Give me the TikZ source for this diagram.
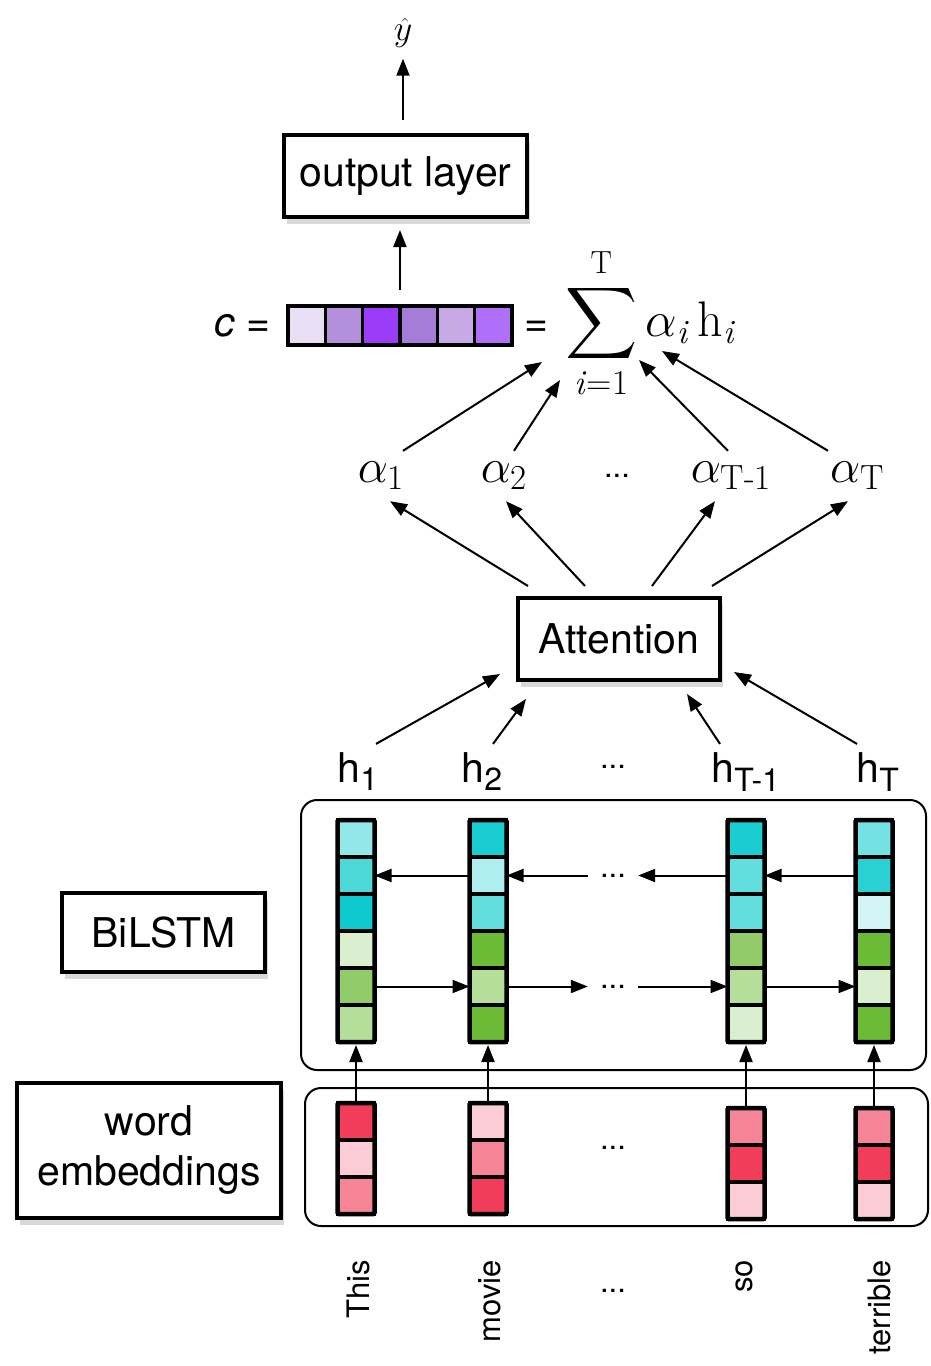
\documentclass[tikz,border=0pt]{standalone}
\usepackage{amsmath}
\usepackage{fontspec}
\newfontfamily\heros{TeX Gyre Heros}
\usetikzlibrary{arrows.meta,positioning,shadows}
% scalable math fonts
\DeclareFontShape{OML}{cmm}{m}{it}{<-6>cmmi5<6-7>cmmi6<7-8>cmmi7<8-9>cmmi8<9-10>cmmi9<10-12>cmmi10<12->cmmi12}{\skewchar\font127}
\DeclareFontShape{OMS}{cmsy}{m}{n}{<-6>cmsy5<6-7>cmsy6<7-8>cmsy7<8-9>cmsy8<9-10>cmsy9<10->cmsy10}{\skewchar\font48}
\DeclareFontShape{OMX}{cmex}{m}{n}{<-8>cmex7<8-9>cmex8<9-10>cmex9<10->cmex10}{}
\DeclareMathSizes{36}{36}{26}{19}
\DeclareMathSizes{41}{41}{32}{24}
\DeclareMathSizes{48}{48}{35}{26}
\DeclareMathSizes{50}{50}{34}{25}
\newcommand{\bigsub}[2][34]{\text{\fontsize{#1}{#1}\selectfont\rmfamily #2}}

\definecolor{cyA}{HTML}{0DCACF}
\definecolor{cyB}{HTML}{19CDD1}
\definecolor{cyC}{HTML}{2AD1D4}
\definecolor{cyD}{HTML}{4DD8D8}
\definecolor{cyE}{HTML}{62DEDE}
\definecolor{cyF}{HTML}{74E2E2}
\definecolor{cyG}{HTML}{92E8E8}
\definecolor{cyH}{HTML}{AFEEEE}
\definecolor{cyI}{HTML}{D4F5F5}
\definecolor{gnA}{HTML}{6BBB36}
\definecolor{gnB}{HTML}{92CC6A}
\definecolor{gnC}{HTML}{B5DE9A}
\definecolor{gnD}{HTML}{DAEFD0}
\definecolor{rdA}{HTML}{F23D5A}
\definecolor{rdB}{HTML}{F58497}
\definecolor{rdC}{HTML}{FCCCD6}
\definecolor{puA}{HTML}{E8DFF5}
\definecolor{puB}{HTML}{B38FDC}
\definecolor{puC}{HTML}{9B3DF8}
\definecolor{puD}{HTML}{A57DD8}
\definecolor{puE}{HTML}{C7A9E6}
\definecolor{puF}{HTML}{B06FF9}

\tikzset{
  arr/.style={-{Triangle[length=17pt,width=13pt]}, line width=2pt},
  layerbox/.style={draw, line width=4pt, fill=white, font=\heros\fontsize{41}{50}\selectfont,
    drop shadow={opacity=0.3, shadow xshift=3pt, shadow yshift=-7pt}},
  groupbox/.style={draw, line width=2pt, rounded corners=16pt},
  cell/.style={draw, line width=3.5pt, minimum width=37pt, minimum height=37pt, inner sep=0pt, outer sep=0pt},
  sflabel/.style={font=\heros\fontsize{41}{50}\selectfont, inner sep=0pt},
  mathlabel/.style={font=\fontsize{48}{58}\selectfont, inner sep=0pt},
  dots/.style={font=\heros\fontsize{31}{37}\selectfont, inner sep=0pt, minimum width=50pt},
  word/.style={font=\heros\fontsize{31}{37}\selectfont, rotate=90, anchor=base east, inner sep=0pt},
}

\begin{document}
\begin{tikzpicture}[x=1pt,y=-1pt]
    \useasboundingbox (0,0) rectangle (930,1366);

    \node[groupbox, minimum width=625pt, minimum height=270pt] (lstmbox) at (613.5,935) {};
    \node[groupbox, minimum width=623pt, minimum height=138pt] (embbox) at (616.5,1157) {};

    \node[layerbox, minimum width=243pt, minimum height=82pt] (outbox) at (405.5,176) {output layer};
    \node[mathlabel, font=\fontsize{36}{43}\selectfont] (yhat) at (403,33) {$\hat{y}$};
    \draw[arr, shorten <=13pt, shorten >=11pt] (outbox.north -| yhat) -- (yhat);

    % context vector
    \foreach \col [count=\i] in {puA,puB,puC,puD,puE,puF}
    \node[cell, minimum width=37.33pt, minimum height=39pt, fill=\col] (cvec\i) at ({269.3+37.33*\i},325.5) {};
    \draw[line width=4.5pt] (cvec1.north west) rectangle (cvec6.south east);
    \draw[arr, shorten <=16pt, shorten >=11pt] (cvec3.north east) -- (cvec3.north east |- outbox.south);

    \node[sflabel, anchor=base east] (clab) at (271,336) {\itshape c\upshape\ =};
    \node[sflabel, anchor=base] (eqlab) at (536.5,336) {=};
    \node[anchor=base west, inner sep=0pt, font=\fontsize{50}{60}\selectfont] (sum) at (565,336)
      {$\displaystyle\sum_{\bigsub[35]{\itshape i\/\upshape=1}}^{\bigsub[32]{T}}\alpha_{\bigsub{\itshape i\/}}\mkern3mu\mathrm{h}_{\bigsub{\itshape i\/}}$};
    \coordinate (sumin1) at (542,362);
    \coordinate (sumin2) at (560,380);
    \coordinate (sumin3) at (639,360);
    \coordinate (sumin4) at (662,351);

    % attention weights
    \foreach \n/\x/\t in {1/381/1, 2/504/2, 3/731/T-1, 4/857/T}
    \node[mathlabel, minimum height=50pt] (alpha\n) at (\x,476) {$\alpha_{\bigsub[35]{\t}}$};
    \node[dots] (adots) at (617,476) {...};

    \node[layerbox, minimum width=202pt, minimum height=82pt] (att) at (619,639) {Attention};

    \foreach \n/\dx in {1/22, 2/10, 3/-3, 4/-29}
    \draw[arr] ([xshift=\dx pt]alpha\n.north) -- (sumin\n);
    \foreach \n/\dx/\ex in {1/-91/9, 2/-34/2, 3/33/-16, 4/93/-9}
    \draw[arr] ([xshift=\dx pt, yshift=10pt]att.north) -- ([xshift=\ex pt]alpha\n.south);

    % hidden states
    \foreach \n/\x/\t in {1/358/1, 2/482/2, 3/746/T-1, 4/878/T}
    \node[sflabel, anchor=base] (h\n) at (\x,782) {h$_{\text{\t}}$};
    \node[dots] (hdots) at (613,767) {...};

    \coordinate (attin1) at ([xshift=-16pt, yshift=8pt]att.south west);
    \coordinate (attin2) at ([xshift=10pt, yshift=-17pt]att.south west);
    \coordinate (attin3) at ([xshift=-35pt, yshift=-12pt]att.south east);
    \coordinate (attin4) at ([xshift=12pt, yshift=10pt]att.south east);
    \foreach \n/\dx in {1/18, 2/11, 3/-26, 4/-21}
    \draw[arr] ([xshift=\dx pt, yshift=8pt]h\n.north) -- (attin\n);

    % BiLSTM columns
    \foreach \n/\x/\cols in {1/356/{cyG,cyD,cyA,gnD,gnB,gnC}, 2/488/{cyB,cyH,cyE,gnA,gnC,gnA},
                             3/746/{cyB,cyE,cyE,gnB,gnC,gnD}, 4/874/{cyF,cyC,cyI,gnA,gnD,gnA}}{
      \foreach \col [count=\r] in \cols
      \node[cell, fill=\col] (lstm\n-\r) at (\x,{801.5+37*\r}) {};
      \draw[line width=4.5pt, rounded corners=1.5pt] (lstm\n-1.north west) rectangle (lstm\n-6.south east);
    }
    \node[dots] (bdots) at (613,875.5) {...};
    \node[dots] (fdots) at (613,986.5) {...};

    \foreach \from/\to in {lstm2-2.west/lstm1-2.east, bdots/lstm2-2.east, lstm3-2.west/bdots, lstm4-2.west/lstm3-2.east,
                           lstm1-5.east/lstm2-5.west, lstm2-5.east/fdots, fdots/lstm3-5.west, lstm3-5.east/lstm4-5.west}
    \draw[arr] (\from)--(\to);

    % word embeddings
    \foreach \n/\x/\y/\cols in {1/356/1103/{rdA,rdC,rdB}, 2/488/1103/{rdC,rdB,rdA},
                                3/746/1108/{rdB,rdA,rdC}, 4/874/1108/{rdB,rdA,rdC}}{
      \foreach \col [count=\r] in \cols
      \node[cell, fill=\col] (emb\n-\r) at (\x,{\y-18.5+37*\r}) {};
      \draw[line width=4.5pt, rounded corners=1.5pt] (emb\n-1.north west) rectangle (emb\n-3.south east);
      \draw[arr, shorten >=3pt] (emb\n-1.north) -- (lstm\n-6.south);
    }
    \node[dots] (edots) at (613,1148) {...};

    \node[layerbox, minimum width=203pt, minimum height=79pt] (lstmlab) at (163.5,932.5) {BiLSTM};
    \node[layerbox, minimum width=264pt, minimum height=135pt, align=center] (emblab) at (149,1150.5) {word\\embeddings};

    \foreach \n/\x/\w in {1/369/This, 2/500/movie, 3/752/so, 4/890/terrible}
    \node[word] (word\n) at (\x,1260) {\w};
    \node[dots] (wdots) at (613,1291) {...};
\end{tikzpicture}
\end{document}
